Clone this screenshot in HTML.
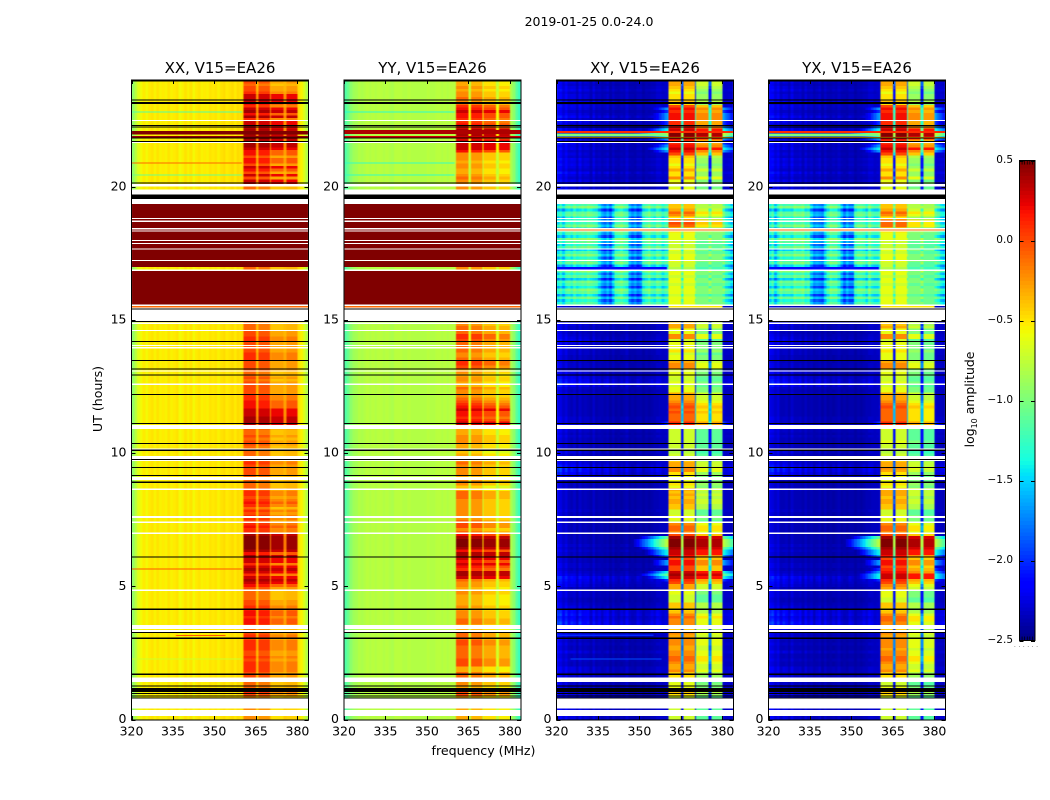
<!DOCTYPE html>
<html lang="en">
<head>
<meta charset="utf-8">
<title>2019-01-25 0.0-24.0</title>
<style>
html,body{margin:0;padding:0;background:#fff;width:1050px;height:800px;overflow:hidden}
svg{display:block}
text{font-family:"DejaVu Sans","Liberation Sans",sans-serif;fill:#000}
</style>
</head>
<body>
<svg id="figure" xmlns="http://www.w3.org/2000/svg" width="1050" height="800" viewBox="0 0 1050 800">
  <defs>
    <filter id="soften" filterUnits="userSpaceOnUse" x="0" y="0" width="1050" height="800" color-interpolation-filters="sRGB">
      <feGaussianBlur stdDeviation="0.55 0.3"/>
    </filter>
  </defs>
  <text x="589" y="26" font-size="12.5" text-anchor="middle">2019-01-25 0.0-24.0</text>
  <text x="483.5" y="755" font-size="12.6" text-anchor="middle">frequency (MHz)</text>
  <text transform="translate(102,399) rotate(-90)" font-size="12.6" text-anchor="middle">UT (hours)</text>
  <text transform="translate(974,399.5) rotate(-90)" font-size="12.4" text-anchor="middle">log<tspan font-size="8" dy="3">10</tspan><tspan dy="-3"> amplitude</tspan></text>
  <g id="panels"></g>
  <g id="colorbar"></g>
  <text x="1026" y="647" font-size="7" fill="#777" style="fill:#777" text-anchor="middle">. . . . . .</text>
</svg>
<script>
/* ---------- axis data ---------- */
const xTickLabels = [320, 335, 350, 365, 380];
const yTickLabels = [0, 5, 10, 15, 20];
const colorTickLabels = [-2.5, -2.0, -1.5, -1.0, -0.5, 0.0, 0.5];
const colorMiniTicks = [1, 2, 3, 4, 5];
const panelTitles = ["XX, V15=EA26", "YY, V15=EA26", "XY, V15=EA26", "YX, V15=EA26"];
const subBands = [[360.5, 365], [366, 370], [370.5, 375], [376, 380]];

/* ---------- flagged hours [start, end] ---------- */
const whiteRows = [[0.14,0.35],[0.42,0.78],[1.41,1.57],[3.29,3.36],[3.39,3.55],[4.83,4.88],[6.97,7.02],[7.38,7.43],[7.57,7.64],[8.62,8.67],[8.99,9.11],[9.71,9.75],[9.78,9.89],[10.14,10.18],[10.91,11.06],[12.57,12.62],[13.07,13.11],[13.94,13.98],[14.02,14.07],[14.59,14.63],[14.86,14.9],[14.97,15.39],[15.43,15.47],[15.53,15.58],[16.85,16.89],[17.22,17.26],[17.65,17.69],[17.85,17.89],[17.97,18.01],[18.32,18.36],[18.41,18.45],[18.69,18.73],[18.79,18.83],[19.36,19.55],[19.72,19.91],[20.01,20.11],[21.65,21.69],[22.48,22.52]];
const blackRows = [[0.79,0.83],[0.88,0.91],[0.97,1.0],[1.04,1.19],[1.23,1.27],[1.68,1.72],[3.03,3.07],[3.26,3.29],[4.12,4.16],[6.09,6.13],[8.89,8.93],[9.15,9.19],[9.45,9.49],[9.75,9.78],[10.09,10.13],[10.35,10.39],[11.1,11.14],[12.19,12.23],[12.91,12.95],[13.14,13.18],[13.46,13.5],[14.17,14.21],[14.92,14.96],[15.39,15.43],[19.55,19.72],[20.12,20.16],[21.69,21.72],[21.81,21.85],[22.24,22.26],[22.29,22.32],[23.12,23.18],[23.25,23.28],[23.97,24]];

/* ---------- band level per 0.1 h row, tenths of log10 amplitude ---------- */
const bandXX = [
-2,-2,-2,-2,-2,-2,-2,-2,-2,0,
1,1,-1,-1,-1,0,0,0,1,1,
1,1,0,1,0,0,1,1,1,1,
0,1,0,-1,-1,1,2,2,1,2,
2,1,1,0,0,-1,-1,-1,-1,0,
2,3,4,3,1,3,4,3,1,3,
3,4,2,4,5,5,5,5,5,4,
1,1,2,1,0,1,1,0,1,-1,
1,2,1,0,1,1,0,-1,-1,-1,
-1,-1,0,0,0,0,1,0,0,-1,
-1,-1,-1,0,0,-1,0,-1,-1,0,
3,4,4,4,3,3,3,2,2,2,
1,1,0,0,0,0,0,-1,0,-1,
-1,0,0,0,0,1,1,1,0,0,
0,0,1,1,0,0,-1,-1,-1,-1,
0,0,0,0,0,1,5,5,5,5,
5,5,5,5,5,5,5,5,5,-1,
5,5,5,5,5,5,5,5,5,5,
5,5,5,5,5,5,5,5,5,5,
5,5,5,5,-1,-1,-1,-1,-1,-1,
-1,3,3,0,3,0,2,3,0,2,
2,0,2,2,3,4,4,4,4,4,
5,4,3,3,3,1,4,2,4,3,
1,2,3,3,3,1,0,0,-1,0];
const bandYY = [
-3,-3,-3,-3,-3,-3,-3,-3,-3,0,
0,0,-3,-2,-2,-1,-1,-1,-3,-3,
0,0,0,-1,-1,-1,-1,-1,0,0,
-1,-1,-1,-3,-3,-2,-1,-1,-2,-2,
-2,-3,-2,-3,-3,-3,-3,-2,-2,-3,
-2,-2,-1,3,4,4,1,2,3,2,
3,4,4,2,4,5,5,5,4,2,
-1,-2,0,0,-1,-2,-2,-2,-2,-2,
-2,-2,-2,-1,-1,-1,-3,-4,-2,-2,
-3,-3,-2,-2,-2,-2,-1,-3,-3,-3,
-4,-4,-3,-3,-2,-2,-2,-3,-3,-3,
3,3,2,1,2,2,3,2,1,0,
-1,-2,-2,-2,-1,-3,-3,-2,-2,-3,
-2,-3,0,1,1,-1,-2,-2,-1,-1,
-1,-1,0,1,1,-1,-1,-1,-2,-2,
-2,-2,-2,-2,-2,-2,5,5,5,5,
5,5,5,5,5,5,5,5,5,-2,
5,5,5,5,5,5,5,5,5,5,
5,5,5,5,5,5,5,5,5,5,
5,5,5,5,-2,-2,-2,-2,-2,-2,
-2,-2,-2,-1,-2,-3,-3,-2,-2,-3,
-2,-2,-2,2,3,3,3,3,2,4,
5,4,2,2,1,1,2,2,3,2,
1,-1,-2,-1,-2,-2,-3,-2,-3,-3];
const bandXY = [
-7,-7,-7,-7,-7,-7,-7,-7,-7,-5,
-4,-4,-6,-6,-7,-6,-5,-4,-2,-3,
-3,-2,-1,-1,-2,-2,-3,-3,-2,-2,
-2,-3,-2,-3,-5,-2,-2,-2,-1,-2,
-4,-5,-4,-4,-7,-7,-7,-6,-6,-3,
-3,0,1,3,4,3,0,0,2,2,
0,2,3,3,4,5,5,5,4,0,
-2,-1,-1,-2,-7,-6,-6,-7,-7,-4,
-4,-3,-3,-4,-3,-4,-3,-6,-5,-6,
-6,-6,-5,-2,-2,-3,-3,-5,-7,-7,
-8,-8,-7,-7,-7,-7,-7,-7,-7,-6,
1,1,-1,-1,-1,0,-1,0,-1,-2,
-3,-3,-3,-6,-6,-7,-6,-7,-7,-6,
-6,-6,-2,-2,-3,-6,-6,-7,-5,-6,
-6,-6,-7,-2,-2,-6,-6,-3,-3,-4,
-7,-7,-7,-7,-7,-7,-6,-6,-6,-7,
-6,-6,-6,-7,-6,-6,-7,-6,-6,-8,
-7,-7,-6,-6,-6,-7,-6,-7,-7,-7,
-6,-6,-6,-5,-6,-1,0,0,-5,-2,
-1,-3,-4,-4,-5,-5,-5,-5,-6,-6,
-7,-5,-6,-2,-5,-5,-3,-5,-6,-5,
-5,-4,0,2,3,2,1,1,3,5,
5,3,2,1,1,2,2,2,1,2,
0,-5,-4,-5,-5,-6,-5,-4,-3,-3];
const bandYX = [
-7,-7,-7,-7,-7,-7,-7,-7,-7,-5,
-4,-4,-6,-7,-7,-6,-5,-4,-2,-3,
-3,-2,-1,-1,-2,-2,-3,-2,-2,-2,
-2,-3,-2,-3,-5,-2,-2,-1,-1,-2,
-4,-5,-4,-4,-7,-7,-6,-6,-6,-3,
-2,0,1,3,3,2,1,0,2,2,
0,2,3,3,4,5,5,5,4,0,
-2,-1,-1,-2,-6,-6,-6,-7,-7,-4,
-4,-3,-3,-4,-3,-3,-3,-6,-5,-6,
-6,-6,-5,-3,-2,-3,-3,-5,-7,-7,
-8,-7,-7,-7,-6,-7,-7,-7,-7,-6,
1,1,-1,-1,-1,-1,-1,0,-1,-2,
-3,-3,-3,-6,-6,-7,-6,-7,-7,-6,
-6,-6,-2,-2,-3,-6,-6,-6,-5,-6,
-6,-6,-7,-2,-2,-6,-6,-3,-4,-4,
-7,-7,-7,-7,-7,-7,-6,-6,-6,-7,
-6,-6,-6,-7,-6,-6,-7,-6,-6,-8,
-7,-7,-6,-6,-6,-7,-6,-7,-7,-7,
-6,-6,-6,-5,-6,-1,-1,0,-5,-2,
-1,-3,-4,-4,-5,-5,-5,-5,-6,-6,
-7,-5,-6,-2,-5,-5,-3,-5,-6,-5,
-5,-4,0,2,3,2,1,1,3,5,
5,3,2,1,1,2,2,2,1,2,
0,-5,-4,-5,-5,-6,-5,-4,-3,-3];

/* ---------- sub-band offsets, log10 ---------- */
const subOffsetXX = [0, -0.05, -0.3, -0.25];
const subOffsetYY = [0, -0.05, -0.2, -0.25];
const subOffsetXY = [0, 0, -0.4, -0.4];
const subOffsetYX = [0, 0, -0.4, -0.45];

/* ---------- per-MHz background, hundredths of log10 amplitude ---------- */
const bgXX = [
-92,-78,-64,-57,-52,-56,-52,-49,-54,-50,
-55,-51,-53,-49,-55,-52,-50,-56,-53,-49,
-54,-50,-56,-52,-49,-53,-51,-55,-50,-52,
-49,-53,-50,-48,-52,-49,-48,-51,-48,-50,
-48,-48,-48,-48,-48,-48,-48,-48,-48,-48,
-48,-48,-48,-48,-48,-48,-48,-48,-48,-48,
-46,-54,-66,-80];
const bgYY = [
-115,-105,-95,-88,-84,-80,-82,-79,-78,-80,
-78,-80,-78,-77,-79,-78,-80,-82,-78,-77,
-78,-80,-79,-78,-79,-80,-79,-80,-79,-80,
-78,-79,-79,-78,-78,-79,-78,-79,-78,-78,
-78,-78,-78,-78,-78,-78,-78,-78,-78,-78,
-78,-78,-78,-78,-78,-78,-78,-78,-78,-78,
-82,-95,-112,-125];
const bgXY = [
-225,-230,-235,-230,-235,-240,-235,-240,-235,-240,
-235,-240,-240,-235,-240,-240,-238,-240,-240,-242,
-240,-242,-240,-242,-240,-238,-242,-240,-242,-240,
-240,-242,-240,-242,-240,-238,-238,-235,-235,-235,
-230,-230,-230,-230,-230,-230,-230,-230,-230,-230,
-230,-230,-230,-230,-230,-230,-230,-230,-230,-230,
-232,-235,-235,-238];
const bgYX = [
-228,-232,-235,-232,-238,-240,-238,-240,-236,-240,
-238,-240,-240,-238,-240,-240,-240,-240,-240,-242,
-240,-242,-240,-242,-240,-240,-242,-240,-242,-240,
-240,-242,-240,-242,-240,-238,-238,-235,-235,-235,
-230,-230,-230,-230,-230,-230,-230,-230,-230,-230,
-230,-230,-230,-230,-230,-230,-230,-230,-230,-230,
-232,-235,-235,-238];

/* ---------- cross-pol faint structure: per-MHz strength and per-row weight (tenths) ---------- */
const crossTexture = [
40,55,30,45,25,50,35,20,45,30,
25,40,15,35,20,30,10,25,35,15,
30,20,10,25,15,30,20,10,15,25,
20,10,15,20,25,15,30,20,10,15,
0,0,0,0,0,0,0,0,0,0,
0,0,0,0,0,0,0,0,0,0,
10,15,20,25];
const crossRowWeight = [
3,3,3,3,3,3,3,3,3,3,
2,2,2,2,2,2,2,2,3,3,
1,1,2,1,1,3,1,1,2,1,
2,2,2,3,3,7,8,6,5,7,
6,5,3,2,1,1,2,2,2,1,
3,4,5,6,3,2,1,2,2,1,
1,1,1,2,1,2,1,1,1,1,
1,1,1,1,1,1,1,1,2,1,
1,1,1,1,1,1,2,1,1,1,
2,2,5,7,8,5,3,1,1,1,
3,2,1,1,1,1,2,1,2,4,
3,2,2,2,1,1,1,1,1,1,
1,1,2,1,2,5,6,5,4,3,
3,2,2,2,1,1,1,2,2,2,
2,3,4,3,2,1,2,2,3,3,
1,1,1,1,1,1,0,0,0,0,
0,0,0,0,0,0,0,0,0,3,
0,0,0,0,0,0,0,0,0,0,
0,0,0,0,0,0,0,0,0,0,
0,0,0,0,3,3,3,3,3,3,
2,3,4,2,3,5,2,3,4,3,
4,2,3,2,4,3,5,2,3,3,
2,4,3,1,4,2,5,3,2,3,
4,2,5,3,3,2,4,3,2,3];

/* ---------- cross-pol noise floor 15.6-19.4 h, hundredths ---------- */
const noiseFirstRow = 156;
const noiseXY = [
-140,-125,-145,-120,-115,-125,-110,-120,-115,-110,
-115,-105,-110,-115,-120,-145,-165,-175,-160,-180,
-150,-115,-110,-105,-115,-120,-160,-175,-165,-180,
-170,-125,-115,-105,-120,-125,-110,-115,-130,-120,
-115,-110,-110,-110,-110,-105,-105,-100,-100,-100,
-95,-95,-95,-95,-95,-95,-95,-95,-95,-95,
-105,-125,-135,-150];
const noiseYX = [
-135,-120,-150,-125,-110,-120,-115,-115,-120,-105,
-110,-110,-105,-120,-115,-150,-170,-165,-170,-175,
-145,-120,-105,-110,-110,-125,-155,-180,-160,-175,
-175,-120,-110,-110,-115,-130,-105,-120,-125,-125,
-110,-110,-110,-110,-110,-105,-105,-100,-100,-100,
-95,-95,-95,-95,-95,-95,-95,-95,-95,-95,
-110,-120,-140,-145];
const noiseRowShift = [0,-20,10,-30,5,15,-25,0,10,-35,5,-15,20,-10,-30,10,0,-20,15,-5,-35,10,-15,5,20,-25,0,10,-30,15,-10,0,-20,10,5,-30,15,-5];

/* ---------- broadband features [startHour, endHour, startMHz, endMHz, log10 amplitude] ---------- */
const featuresXX = [[15.58,16.9,320,384,0.5],[17,19.36,320,384,0.5],[15.47,15.53,320,384,-0.1],[18.36,18.41,320,384,0.5],[21.97,22.1,320,384,0.5],[21.85,21.92,320,384,0.45],[22.79,22.83,320,360,-1.15],[20.42,20.46,320,360,-1.05],[20.88,20.92,320,360,-0.1],[5.63,5.67,320,360,-0.05],[3.14,3.18,336,354,-0.05],[2.26,2.29,320,360,-0.7]];
const featuresYY = [[15.58,16.9,320,384,0.5],[17,19.36,320,384,0.5],[15.47,15.53,320,384,-0.1],[18.36,18.41,320,384,0.5],[21.98,22.13,320,384,0.38],[21.84,21.92,320,384,0.3],[22.79,22.83,320,360,-1.3],[20.42,20.46,320,360,-1.25],[20.88,20.92,320,360,-1.25]];
const featuresXY = [[2.25,2.3,325,358,-1.9],[3.13,3.2,320,355,-2.0],[22.02,22.1,320,384,0.1],[21.82,21.88,320,384,-0.3],[21.9,22.0,320,360,-1.0],[18.36,18.41,320,384,-0.1],[15.47,15.53,361,380,-0.5],[16.9,17,320,360,-2.1]];
const featuresYX = [[22.02,22.1,320,384,0.1],[21.82,21.88,320,384,-0.3],[21.9,22.0,320,360,-1.0],[18.36,18.41,320,384,-0.1],[15.47,15.53,361,380,-0.5],[16.9,17,320,360,-2.1]];

/* ---------- layout ---------- */
const panelLefts = [131.5, 344, 556.5, 768.5];
const panelWidth = 177;
const plotTop = 80.4;
const plotBottom = 719.5;
const freqMin = 320, freqMax = 384, hourMin = 0, hourMax = 24;
const rowHours = 0.1;
const cbLeft = 1019.5, cbRight = 1035, cbTop = 160.5, cbBottom = 640.5;
const NS = 'http://www.w3.org/2000/svg';

const panelConfigs = [
  {key: 'xx', band: bandXX, sub: subOffsetXX, bg: bgXX, noise: null, features: featuresXX},
  {key: 'yy', band: bandYY, sub: subOffsetYY, bg: bgYY, noise: null, features: featuresYY},
  {key: 'xy', band: bandXY, sub: subOffsetXY, bg: bgXY, noise: noiseXY, features: featuresXY},
  {key: 'yx', band: bandYX, sub: subOffsetYX, bg: bgYX, noise: noiseYX, features: featuresYX}
];

function jetColor(value) {
  const n = Math.max(0, Math.min(1, (value + 2.5) / 3));
  function ramp(x, pts) {
    for (let k = 1; k < pts.length; k++) {
      if (x <= pts[k][0]) {
        const a = pts[k - 1], b = pts[k];
        return a[1] + (b[1] - a[1]) * (x - a[0]) / (b[0] - a[0]);
      }
    }
    return pts[pts.length - 1][1];
  }
  const r = ramp(n, [[0,0],[0.35,0],[0.66,1],[0.89,1],[1,0.5]]);
  const g = ramp(n, [[0,0],[0.125,0],[0.375,1],[0.64,1],[0.91,0],[1,0]]);
  const b = ramp(n, [[0,0.5],[0.11,1],[0.34,1],[0.65,0],[1,0]]);
  return 'rgb(' + Math.round(r * 255) + ',' + Math.round(g * 255) + ',' + Math.round(b * 255) + ')';
}
function quantize(value) {
  const n = Math.max(0, Math.min(1, (value + 2.5) / 3));
  return Math.round(n * 127);
}
function levelToValue(level) {
  return level / 127 * 3 - 2.5;
}
function xScale(left, mhz) {
  return left + (mhz - freqMin) * panelWidth / (freqMax - freqMin);
}
function yScale(hour) {
  return plotBottom - (hour - hourMin) * (plotBottom - plotTop) / (hourMax - hourMin);
}
function colorScale(value) {
  return cbBottom - (value + 2.5) * (cbBottom - cbTop) / 3;
}
function channelEdges() {
  const edges = [];
  for (let f = freqMin; f < 360; f += 1) edges.push(f);
  for (let f = 360; f <= freqMax; f += 0.5) edges.push(f);
  return edges;
}
function subBandIndex(f) {
  for (let k = 0; k < subBands.length; k++) {
    if (f >= subBands[k][0] && f < subBands[k][1]) return k;
  }
  return -1;
}
function cellValue(cfg, f, row) {
  const band = cfg.band[row] / 10;
  const k = subBandIndex(f);
  if (k >= 0) return band + cfg.sub[k] * (band >= 0.3 ? 0.3 : 1);
  const ch = Math.min(63, Math.floor(f - freqMin));
  const inGap = f >= 360.5 && f < 380;
  const noiseIdx = row - noiseFirstRow;
  if (cfg.noise && noiseIdx >= 0 && noiseIdx < noiseRowShift.length) {
    return (cfg.noise[ch] + noiseRowShift[noiseIdx]) / 100;
  }
  const base = cfg.bg[ch] / 100;
  if (!cfg.noise) {
    return inGap ? base + 0.35 * Math.max(0, band + 0.4) : base;
  }
  if (inGap) return -2.1 + 1.3 * Math.max(0, band + 0.5);
  const textured = base + crossTexture[ch] / 100 * crossRowWeight[row] / 10;
  const dist = f < 360.5 ? 360.5 - f : f - 380;
  return Math.max(textured, band * 3 - 2.2 - 0.13 * dist);
}

function drawPanel(cfg, index) {
  const left = panelLefts[index];
  const root = document.getElementById('panels');
  const panel = document.createElementNS(NS, 'g');
  
  
  root.appendChild(panel);

  const clip = document.createElementNS(NS, 'clipPath');
  clip.setAttribute('id', 'clip-' + cfg.key);
  const clipRect = document.createElementNS(NS, 'rect');
  clipRect.setAttribute('x', left);
  clipRect.setAttribute('y', plotTop);
  clipRect.setAttribute('width', panelWidth);
  clipRect.setAttribute('height', plotBottom - plotTop);
  clip.appendChild(clipRect);
  panel.appendChild(clip);

  const clipped = document.createElementNS(NS, 'g');
  clipped.setAttribute('clip-path', 'url(#clip-' + cfg.key + ')');
  panel.appendChild(clipped);

  const heat = document.createElementNS(NS, 'g');
  
  
  heat.setAttribute('filter', 'url(#soften)');
  heat.setAttribute('shape-rendering', 'crispEdges');
  clipped.appendChild(heat);

  const edges = channelEdges();
  for (let row = 0; row < cfg.band.length; row++) {
    const yTop = yScale((row + 1) * rowHours);
    const yBot = yScale(row * rowHours);
    let runStart = 0;
    let runLevel = null;
    for (let c = 0; c <= edges.length - 1; c++) {
      let level = null;
      if (c < edges.length - 1) {
        const mid = (edges[c] + edges[c + 1]) / 2;
        level = quantize(cellValue(cfg, mid, row));
      }
      if (level !== runLevel) {
        if (runLevel !== null) {
          const cell = document.createElementNS(NS, 'rect');
          
          
          const x0 = xScale(left, edges[runStart]);
          const x1 = xScale(left, edges[c]);
          cell.setAttribute('x', x0);
          cell.setAttribute('y', yTop);
          cell.setAttribute('width', x1 - x0);
          cell.setAttribute('height', yBot - yTop + 0.4);
          cell.setAttribute('fill', jetColor(levelToValue(runLevel)));
          heat.appendChild(cell);
        }
        runStart = c;
        runLevel = level;
      }
    }
  }

  cfg.features.forEach(function (ft) {
    const el = document.createElementNS(NS, 'rect');
    
    
    el.setAttribute('x', xScale(left, ft[2]));
    el.setAttribute('y', yScale(ft[1]));
    el.setAttribute('width', xScale(left, ft[3]) - xScale(left, ft[2]));
    el.setAttribute('height', yScale(ft[0]) - yScale(ft[1]));
    el.setAttribute('fill', jetColor(ft[4]));
    heat.appendChild(el);
  });

  whiteRows.forEach(function (r) {
    const el = document.createElementNS(NS, 'rect');
    
    
    el.setAttribute('x', left);
    el.setAttribute('y', yScale(r[1]));
    el.setAttribute('width', panelWidth);
    el.setAttribute('height', Math.max(1, yScale(r[0]) - yScale(r[1])));
    el.setAttribute('fill', '#fff');
    el.setAttribute('shape-rendering', 'crispEdges');
    clipped.appendChild(el);
  });
  blackRows.forEach(function (r) {
    const el = document.createElementNS(NS, 'rect');
    
    
    el.setAttribute('x', left);
    el.setAttribute('y', yScale(r[1]));
    el.setAttribute('width', panelWidth);
    el.setAttribute('height', Math.max(1, yScale(r[0]) - yScale(r[1])));
    el.setAttribute('fill', '#000');
    el.setAttribute('shape-rendering', 'crispEdges');
    clipped.appendChild(el);
  });

  const frame = document.createElementNS(NS, 'rect');
  
  
  frame.setAttribute('x', left);
  frame.setAttribute('y', 80);
  frame.setAttribute('width', panelWidth);
  frame.setAttribute('height', 640);
  frame.setAttribute('fill', 'none');
  frame.setAttribute('stroke', '#000');
  frame.setAttribute('stroke-width', '1');
  frame.setAttribute('shape-rendering', 'crispEdges');
  panel.appendChild(frame);

  const title = document.createElementNS(NS, 'text');
  
  
  title.setAttribute('x', left + panelWidth / 2);
  title.setAttribute('y', 73);
  title.setAttribute('font-size', '15');
  title.setAttribute('text-anchor', 'middle');
  title.textContent = panelTitles[index];
  panel.appendChild(title);

  xTickLabels.forEach(function (v) {
    const x = Math.round(xScale(left, v)) + 0.5;
    [[720, 716], [80, 84]].forEach(function (seg) {
      const tick = document.createElementNS(NS, 'line');
      
      
      tick.setAttribute('x1', x);
      tick.setAttribute('x2', x);
      tick.setAttribute('y1', seg[0]);
      tick.setAttribute('y2', seg[1]);
      tick.setAttribute('stroke', '#000');
      panel.appendChild(tick);
    });
    const lab = document.createElementNS(NS, 'text');
    
    
    lab.setAttribute('x', xScale(left, v));
    lab.setAttribute('y', 735.5);
    lab.setAttribute('font-size', '12.5');
    lab.setAttribute('text-anchor', 'middle');
    lab.textContent = String(v);
    panel.appendChild(lab);
  });
  yTickLabels.forEach(function (v) {
    const y = Math.round(yScale(v)) + 0.5;
    [[left, left + 4], [left + panelWidth, left + panelWidth - 4]].forEach(function (seg) {
      const tick = document.createElementNS(NS, 'line');
      
      
      tick.setAttribute('x1', seg[0]);
      tick.setAttribute('x2', seg[1]);
      tick.setAttribute('y1', y);
      tick.setAttribute('y2', y);
      tick.setAttribute('stroke', '#000');
      panel.appendChild(tick);
    });
    const lab = document.createElementNS(NS, 'text');
    
    
    lab.setAttribute('x', left - 5);
    lab.setAttribute('y', yScale(v) + 3.5);
    lab.setAttribute('font-size', '12.5');
    lab.setAttribute('text-anchor', 'end');
    lab.textContent = String(v);
    panel.appendChild(lab);
  });
}

function drawColorbar() {
  const root = document.getElementById('colorbar');
  const steps = 128;
  for (let s = 0; s < steps; s++) {
    const v0 = -2.5 + 3 * s / steps;
    const v1 = -2.5 + 3 * (s + 1) / steps;
    const swatch = document.createElementNS(NS, 'rect');
    
    
    swatch.setAttribute('x', cbLeft);
    swatch.setAttribute('y', colorScale(v1));
    swatch.setAttribute('width', cbRight - cbLeft);
    swatch.setAttribute('height', colorScale(v0) - colorScale(v1) + 0.5);
    swatch.setAttribute('fill', jetColor((v0 + v1) / 2));
    swatch.setAttribute('shape-rendering', 'crispEdges');
    root.appendChild(swatch);
  }
  const frame = document.createElementNS(NS, 'rect');
  
  
  frame.setAttribute('x', cbLeft);
  frame.setAttribute('y', cbTop);
  frame.setAttribute('width', cbRight - cbLeft);
  frame.setAttribute('height', cbBottom - cbTop);
  frame.setAttribute('fill', 'none');
  frame.setAttribute('stroke', '#000');
  frame.setAttribute('shape-rendering', 'crispEdges');
  root.appendChild(frame);
  colorTickLabels.forEach(function (v) {
    const y = Math.round(colorScale(v)) + 0.5;
    [[cbLeft, cbLeft + 4], [cbRight, cbRight - 4]].forEach(function (seg) {
      const tick = document.createElementNS(NS, 'line');
      
      
      tick.setAttribute('x1', seg[0]);
      tick.setAttribute('x2', seg[1]);
      tick.setAttribute('y1', y);
      tick.setAttribute('y2', y);
      tick.setAttribute('stroke', '#000');
      root.appendChild(tick);
    });
    const lab = document.createElementNS(NS, 'text');
    
    
    lab.setAttribute('x', 1013);
    lab.setAttribute('y', colorScale(v) + 2.5);
    lab.setAttribute('font-size', '10.5');
    lab.setAttribute('text-anchor', 'end');
    lab.textContent = v.toFixed(1).replace('-', '\u2212');
    root.appendChild(lab);
  });
  colorMiniTicks.forEach(function (m) {
    const x = cbLeft + m * (cbRight - cbLeft) / 6;
    [[cbTop, cbTop + 4], [cbBottom, cbBottom - 4]].forEach(function (seg) {
      const tick = document.createElementNS(NS, 'line');
      
      
      tick.setAttribute('x1', x);
      tick.setAttribute('x2', x);
      tick.setAttribute('y1', seg[0]);
      tick.setAttribute('y2', seg[1]);
      tick.setAttribute('stroke', '#000');
      tick.setAttribute('stroke-width', '0.7');
      root.appendChild(tick);
    });
  });
}

panelConfigs.forEach(drawPanel);
drawColorbar();
</script>
</body>
</html>
